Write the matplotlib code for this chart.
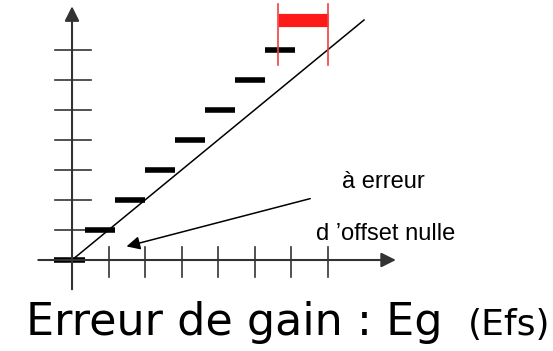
import numpy as np
import matplotlib.pyplot as plt

# quantizer steps (x start, x end, level) in axis units
step_start = [-0.5, 0.35, 1.18, 2.0, 2.82, 3.64, 4.47, 5.29]
step_end = [0.35, 1.18, 2.0, 2.82, 3.64, 4.47, 5.29, 6.1]
step_level = [0, 1, 2, 3, 4, 5, 6, 7]

x_ticks = [1, 2, 3, 4, 5, 6, 7]
y_ticks = [1, 2, 3, 4, 5, 6, 7]

ideal_x = [0, 8]
ideal_y = [0, 8]

# full-scale error marker
err_x = [5.65, 7.0]
err_y = 8.0

fig = plt.figure(figsize=(5.53, 3.51), dpi=100)
ax = fig.add_axes([0, 0, 1, 1])
ax.set_xlim(-1.973, 13.178)
ax.set_ylim(-3.033, 8.667)
ax.axis('off')

axis_col = '#333333'
# axes with arrows
ax.annotate('', xy=(8.95, 0), xytext=(-1.0, 0),
            arrowprops=dict(arrowstyle='-|>', lw=1.5, color=axis_col, mutation_scale=22))
ax.annotate('', xy=(0, 8.55), xytext=(0, -1.07),
            arrowprops=dict(arrowstyle='-|>', lw=1.5, color=axis_col, mutation_scale=22))

# ticks
for t in x_ticks:
    ax.plot([t, t], [-0.57, 0.43], color=axis_col, lw=1.2)
for t in y_ticks:
    ax.plot([-0.47, 0.52], [t, t], color=axis_col, lw=1.2)

# ideal transfer line
ax.plot(ideal_x, ideal_y, color='black', lw=1.1)

# steps
for s, e, l in zip(step_start, step_end, step_level):
    ax.plot([s, e], [l, l], color='black', lw=4, solid_capstyle='butt')

# gain error marker
ax.plot(err_x, [err_y, err_y], color='#ff1a1a', lw=9.5, solid_capstyle='butt')
for xv in err_x:
    ax.plot([xv, xv], [6.5, 8.55], color='#f04040', lw=1.2)

# annotation
ax.annotate('', xy=(1.42, 0.43), xytext=(6.6, 2.07),
            arrowprops=dict(arrowstyle='-|>', lw=1.1, color='black', mutation_scale=20))
ax.text(8.52, 2.4, 'à erreur', ha='center', va='baseline', fontsize=17, family='Liberation Sans')
ax.text(8.58, 0.67, 'd \u2019offset nulle', ha='center', va='baseline', fontsize=17, family='Liberation Sans')

# caption
fig.text(0.047, 0.045, 'Erreur de gain : Eg', fontsize=32, family='DejaVu Sans', ha='left', va='baseline')
fig.text(0.995, 0.045, '(Efs)', fontsize=26, family='DejaVu Sans', ha='right', va='baseline')

fig.savefig('out.png', dpi=100)
